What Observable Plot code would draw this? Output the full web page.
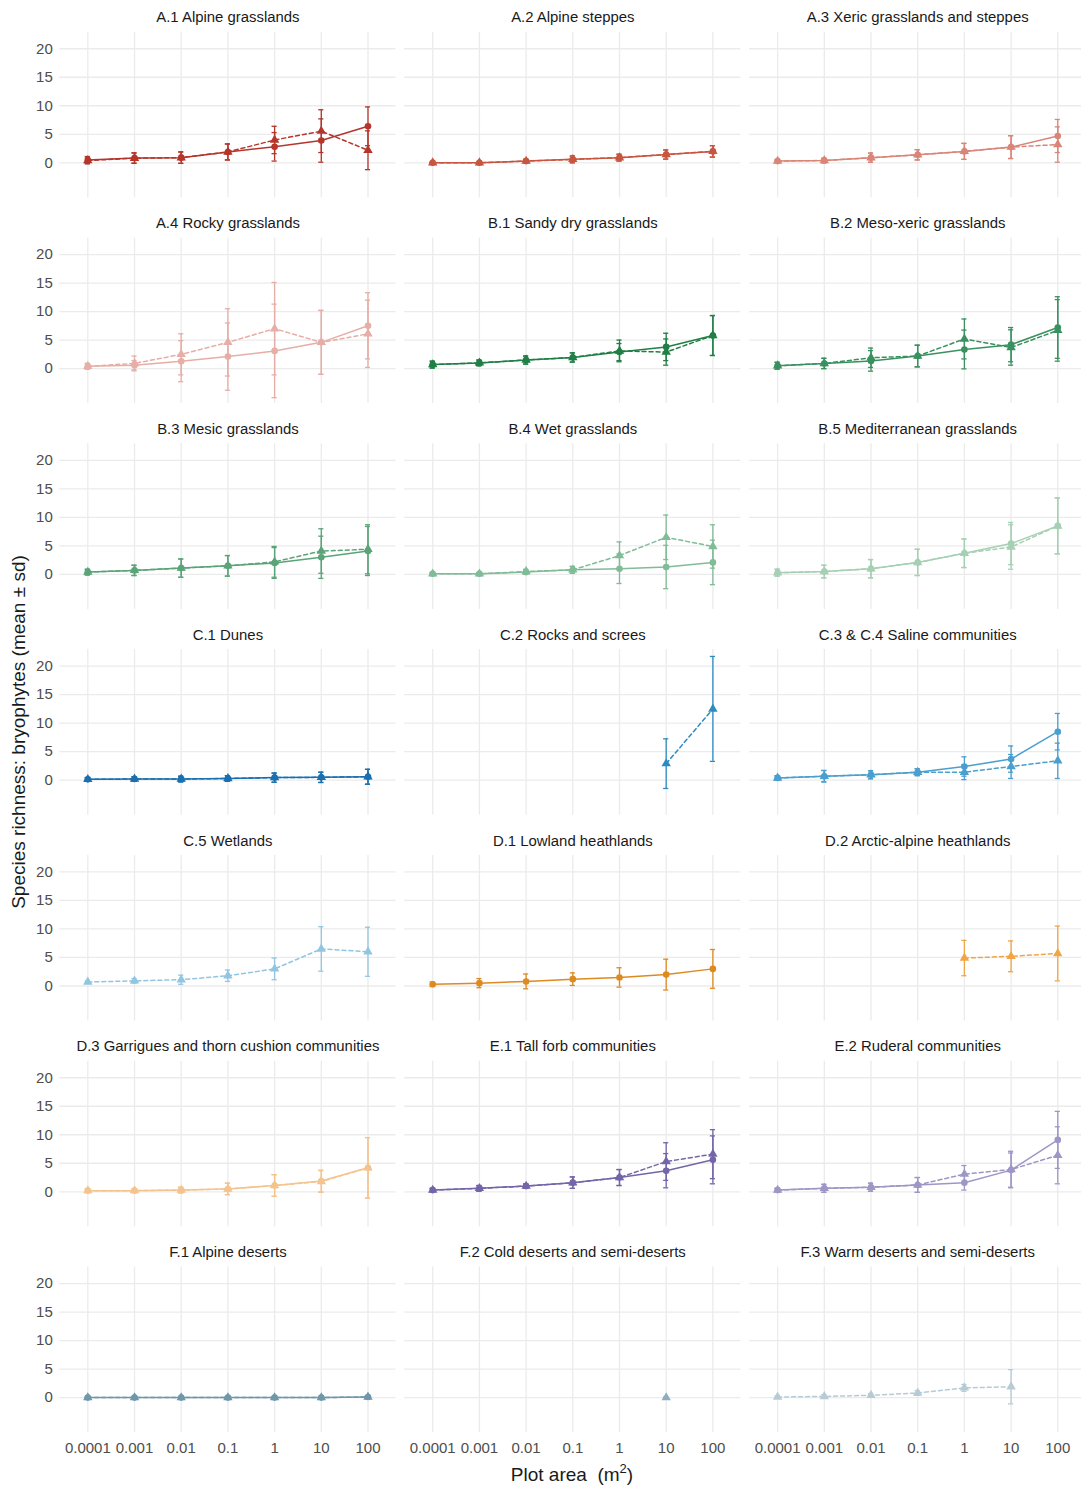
<!DOCTYPE html>
<html>
<head>
<meta charset="utf-8">
<script src="https://cdn.jsdelivr.net/npm/d3@7"></script>
<script src="https://cdn.jsdelivr.net/npm/@observablehq/plot@0.6"></script>
<style>
  body { margin: 0; background: #ffffff; overflow: hidden; }
  #chart { width: 1081px; height: 1488px; overflow: hidden; }
</style>
</head>
<body>
<div id="chart"></div>
<script>
// ---- data ----
const areas = [0.0001, 0.001, 0.01, 0.1, 1, 10, 100];
const areaLabels = ["0.0001", "0.001", "0.01", "0.1", "1", "10", "100"];
const yTicks = [0, 5, 10, 15, 20];

const panels = [
  "A.1 Alpine grasslands", "A.2 Alpine steppes", "A.3 Xeric grasslands and steppes",
  "A.4 Rocky grasslands", "B.1 Sandy dry grasslands", "B.2 Meso-xeric grasslands",
  "B.3 Mesic grasslands", "B.4 Wet grasslands", "B.5 Mediterranean grasslands",
  "C.1 Dunes", "C.2 Rocks and screes", "C.3 & C.4 Saline communities",
  "C.5 Wetlands", "D.1 Lowland heathlands", "D.2 Arctic-alpine heathlands",
  "D.3 Garrigues and thorn cushion communities", "E.1 Tall forb communities", "E.2 Ruderal communities",
  "F.1 Alpine deserts", "F.2 Cold deserts and semi-deserts", "F.3 Warm deserts and semi-deserts"
];

const panelColors = [
  "#B5352B", "#C8553F", "#D98679",
  "#E6AEA6", "#1F7F45", "#39915F",
  "#5AA478", "#80BC97", "#A6D0B3",
  "#1A6FAF", "#2C8BC0", "#4A9FCE",
  "#92C6E0", "#DE8A22", "#F0A646",
  "#F4C48E", "#7465A8", "#9D97C6",
  "#6F97AA", "#8EAEBE", "#B6CBD5"
];

// solid line + circles (null = no value)
const solidMean = [
  [0.5, 0.85, 0.9, 1.9, 2.8, 3.9, 6.4],
  [0.0, 0.0, 0.3, 0.6, 0.9, 1.45, 2.0],
  [0.3, 0.4, 0.9, 1.4, 2.0, 2.75, 4.7],
  [0.4, 0.6, 1.3, 2.1, 3.1, 4.6, 7.5],
  [0.7, 1.0, 1.5, 1.95, 2.9, 3.8, 5.8],
  [0.5, 0.9, 1.35, 2.2, 3.35, 4.2, 7.2],
  [0.4, 0.7, 1.1, 1.5, 2.0, 3.0, 4.1],
  [0.1, 0.1, 0.4, 0.8, 1.0, 1.3, 2.1],
  [0.3, 0.5, 1.0, 2.1, 3.7, 5.4, 8.5],
  [0.15, 0.2, 0.2, 0.3, 0.45, 0.5, 0.6],
  null,
  [0.4, 0.7, 0.95, 1.4, 2.4, 3.7, 8.5],
  null,
  [0.3, 0.5, 0.8, 1.2, 1.5, 2.0, 3.0],
  null,
  [0.2, 0.2, 0.3, 0.5, 1.1, 1.9, 4.2],
  [0.3, 0.6, 1.0, 1.6, 2.5, 3.7, 5.6],
  [0.3, 0.6, 0.8, 1.2, 1.6, 3.8, 9.1],
  [0.0, 0.0, 0.0, 0.0, 0.0, 0.0, 0.1],
  null,
  null
];
const solidSd = [
  [0.6, 0.9, 1.0, 1.4, 2.5, 3.8, 3.4],
  [0.1, 0.1, 0.3, 0.6, 0.6, 0.8, 1.0],
  [0.2, 0.4, 0.8, 0.9, 1.4, 2.0, 2.9],
  [0.5, 0.8, 3.6, 5.9, 8.2, 5.6, 5.8],
  [0.6, 0.5, 0.7, 0.8, 1.5, 2.4, 3.5],
  [0.6, 0.9, 1.8, 1.9, 3.4, 3.0, 5.4],
  [0.5, 0.9, 1.6, 1.8, 2.7, 3.7, 4.3],
  [0.2, 0.2, 0.4, 0.6, 2.6, 3.8, 3.9],
  [0.6, 1.1, 1.6, 2.3, 2.5, 3.7, 4.9],
  [0.3, 0.4, 0.5, 0.5, 0.8, 0.9, 1.3],
  null,
  [0.4, 1.0, 0.7, 0.6, 1.7, 2.3, 3.2],
  null,
  [0.4, 0.8, 1.3, 1.1, 1.7, 2.7, 3.4],
  null,
  [0.3, 0.3, 0.5, 1.0, 1.9, 1.9, 5.3],
  [0.3, 0.5, 0.4, 1.0, 1.4, 3.0, 4.2],
  [0.3, 0.7, 0.7, 1.3, 1.3, 3.0, 5.0],
  [0.1, 0.1, 0.1, 0.1, 0.1, 0.1, 0.2],
  null,
  null
];

// dashed line + triangles
const dashedMean = [
  [0.4, 0.8, 0.9, 1.9, 4.0, 5.55, 2.2],
  [0.0, 0.0, 0.3, 0.6, 0.9, 1.45, 2.0],
  [0.3, 0.4, 0.9, 1.4, 2.0, 2.75, 3.2],
  [0.4, 0.9, 2.5, 4.6, 7.0, 4.6, 6.1],
  [0.7, 1.0, 1.5, 1.95, 3.1, 2.9, 5.8],
  [0.5, 0.9, 1.9, 2.2, 5.2, 3.7, 6.7],
  [0.4, 0.7, 1.1, 1.5, 2.2, 4.1, 4.4],
  [0.1, 0.1, 0.5, 0.8, 3.3, 6.5, 4.9],
  [0.3, 0.5, 1.0, 2.1, 3.7, 4.8, 8.5],
  [0.15, 0.2, 0.2, 0.3, 0.45, 0.5, 0.6],
  [null, null, null, null, null, 2.9, 12.5],
  [0.4, 0.7, 0.95, 1.4, 1.4, 2.4, 3.4],
  [0.7, 0.9, 1.1, 1.8, 3.0, 6.5, 6.0],
  null,
  [null, null, null, null, 4.9, 5.2, 5.7],
  [0.2, 0.2, 0.3, 0.5, 1.1, 1.8, 4.2],
  [0.3, 0.6, 1.0, 1.6, 2.5, 5.3, 6.6],
  [0.3, 0.6, 0.8, 1.2, 3.1, 3.9, 6.4],
  [0.0, 0.0, 0.0, 0.0, 0.0, 0.0, 0.1],
  [null, null, null, null, null, 0.0, null],
  [0.1, 0.2, 0.4, 0.8, 1.7, 1.9, null]
];
const dashedSd = [
  [0.6, 0.9, 1.0, 1.4, 2.4, 3.75, 3.4],
  [0.1, 0.1, 0.3, 0.6, 0.6, 0.8, 1.0],
  [0.2, 0.4, 0.8, 0.9, 1.4, 2.0, 3.1],
  [0.5, 1.3, 3.6, 5.9, 8.1, 5.6, 5.9],
  [0.6, 0.5, 0.7, 0.8, 1.9, 2.3, 3.5],
  [0.6, 0.9, 1.7, 1.9, 3.5, 3.1, 5.4],
  [0.5, 0.9, 1.6, 1.8, 2.7, 3.9, 4.3],
  [0.2, 0.2, 0.4, 0.6, 2.4, 3.9, 3.8],
  [0.6, 1.1, 1.6, 2.3, 2.5, 3.9, 4.9],
  [0.3, 0.4, 0.5, 0.5, 0.8, 0.9, 1.3],
  [null, null, null, null, null, 4.35, 9.2],
  [0.4, 1.0, 0.7, 0.6, 1.3, 2.1, 3.1],
  [0.2, 0.4, 0.8, 1.0, 1.9, 3.9, 4.3],
  null,
  [null, null, null, null, 3.1, 2.7, 4.8],
  [0.3, 0.3, 0.5, 1.0, 1.9, 1.9, 5.3],
  [0.3, 0.5, 0.4, 1.0, 1.4, 3.3, 4.3],
  [0.3, 0.7, 0.7, 1.3, 1.5, 3.2, 5.0],
  [0.1, 0.1, 0.1, 0.1, 0.1, 0.1, 0.2],
  [null, null, null, null, null, 0.1, null],
  [0.2, 0.3, 0.3, 0.4, 0.6, 3.0, null]
];

// ---- build tables ----
function buildRows(means, sds, series) {
  const out = [];
  panels.forEach((p, i) => {
    if (!means[i]) return;
    areas.forEach((a, j) => {
      const m = means[i][j];
      if (m == null) return;
      out.push({panel: p, col: i % 3, row: Math.floor(i / 3), area: a, mean: m, sd: sds[i][j], series});
    });
  });
  return out;
}
const solidRows = buildRows(solidMean, solidSd, "solid");
const dashedRows = buildRows(dashedMean, dashedSd, "dashed");
const allRows = solidRows.concat(dashedRows);
const titleRows = panels.map((p, i) => ({panel: p, col: i % 3, row: Math.floor(i / 3)}));

const capHalf = Math.pow(10, 0.055);
const fontFamily = "'Liberation Sans', Arial, Helvetica, sans-serif";
const facetOpts = {fx: "col", fy: "row"};

// the right-hand panel runs a few pixels past the picture edge, as in the reference
const plotWidth = 1086;
const chart = Plot.plot({
  width: plotWidth,
  height: 1488,
  marginLeft: 59.3,
  marginRight: 0.7,
  marginTop: 31.7,
  marginBottom: 55.9,
  facet: {marginTop: 0, marginRight: 0, marginBottom: 0, marginLeft: 0},
  style: {fontFamily, background: "#ffffff"},
  fx: {domain: [0, 1, 2], paddingInner: 0.0252, paddingOuter: 0, round: false, axis: null},
  fy: {domain: [0, 1, 2, 3, 4, 5, 6], paddingInner: 0.1953, paddingOuter: 0, round: false, axis: null},
  x: {type: "log", domain: [Math.pow(10, -4.6), Math.pow(10, 2.6)], axis: null},
  y: {domain: [-6.14, 22.9], axis: null},
  color: {domain: panels, range: panelColors},
  marks: [
    Plot.gridY({ticks: yTicks, stroke: "#EBEBEB", strokeOpacity: 1, strokeWidth: 1.3}),
    Plot.gridX({ticks: areas, stroke: "#EBEBEB", strokeOpacity: 1, strokeWidth: 1.3}),
    Plot.axisY({ticks: yTicks, tickSize: 0, tickPadding: 7, fontSize: 15, color: "#4D4D4D", label: null}),
    Plot.axisX({ticks: areas, tickSize: 0, tickPadding: 10, fontSize: 15, color: "#4D4D4D", label: null,
      tickFormat: d => areaLabels[areas.indexOf(d)]}),
    Plot.text(titleRows, {...facetOpts, text: "panel", frameAnchor: "top", lineAnchor: "middle", dy: -14.5,
      fontSize: 14.9, fill: "#1A1A1A"}),
    // error bars
    Plot.ruleX(allRows, {...facetOpts, x: "area", y1: d => d.mean - d.sd, y2: d => d.mean + d.sd,
      stroke: "panel", strokeWidth: 1.3}),
    Plot.ruleY(allRows, {...facetOpts, y: d => d.mean + d.sd, x1: d => d.area / capHalf, x2: d => d.area * capHalf,
      stroke: "panel", strokeWidth: 1.3}),
    Plot.ruleY(allRows, {...facetOpts, y: d => d.mean - d.sd, x1: d => d.area / capHalf, x2: d => d.area * capHalf,
      stroke: "panel", strokeWidth: 1.3}),
    // lines
    Plot.line(solidRows, {...facetOpts, x: "area", y: "mean", z: "panel", stroke: "panel", strokeWidth: 1.5}),
    Plot.line(dashedRows, {...facetOpts, x: "area", y: "mean", z: "panel", stroke: "panel", strokeWidth: 1.5,
      strokeDasharray: "4,3"}),
    // points
    Plot.dot(solidRows, {...facetOpts, x: "area", y: "mean", fill: "panel", r: 3.3, symbol: "circle"}),
    Plot.dot(dashedRows, {...facetOpts, x: "area", y: "mean", fill: "panel", r: 3.5, symbol: "triangle"})
  ]
});

const svg = chart.tagName.toLowerCase() === "svg" ? chart : chart.querySelector("svg");
// show the 1081-px wide window of the plot without scaling it
svg.setAttribute("width", 1081);
svg.setAttribute("viewBox", "0 0 1081 1488");
svg.style.maxWidth = "none";

const s = d3.select(svg);
s.append("text")
  .attr("transform", "translate(20,732) rotate(-90)")
  .attr("text-anchor", "middle")
  .attr("dominant-baseline", "middle")
  .attr("font-family", fontFamily)
  .attr("font-size", 19)
  .attr("fill", "#1A1A1A")
  .text("Species richness: bryophytes (mean ± sd)");
const xt = s.append("text")
  .attr("x", 572)
  .attr("y", 1481)
  .attr("text-anchor", "middle")
  .attr("font-family", fontFamily)
  .attr("font-size", 19)
  .attr("fill", "#1A1A1A");
xt.append("tspan").text("Plot area  (m");
xt.append("tspan").attr("dy", -8).attr("font-size", 13).text("2");
xt.append("tspan").attr("dy", 8).text(")");

document.getElementById("chart").appendChild(chart);
</script>
</body>
</html>
